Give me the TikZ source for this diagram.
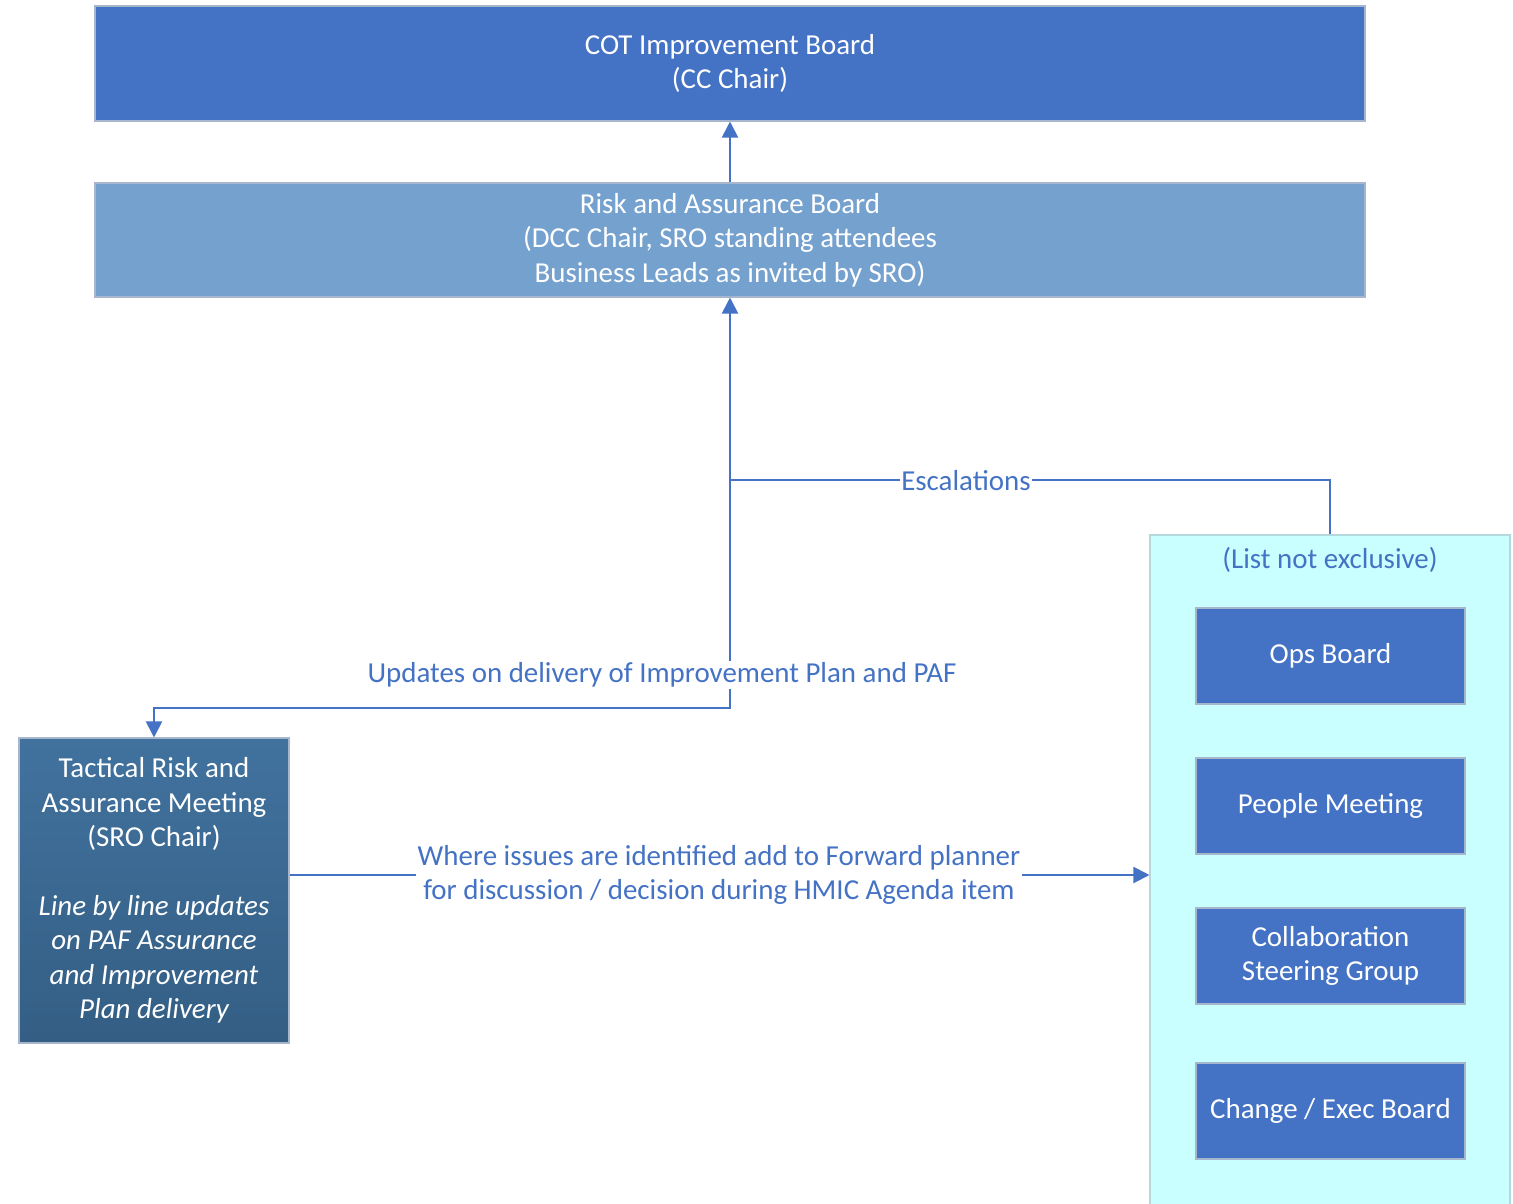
\documentclass[tikz,border=0pt]{standalone}
\usepackage{fontspec}
\setmainfont{Carlito}
\usepackage{tikz}
\usetikzlibrary{positioning,arrows.meta}

\definecolor{boardblue}{HTML}{4472C4}
\definecolor{riskblue}{HTML}{75A1CF}
\definecolor{edgegray}{HTML}{A6B6CC}
\definecolor{paneltint}{HTML}{C9FFFF}
\definecolor{paneledge}{HTML}{B4D8DC}
\definecolor{tacttop}{HTML}{41729E}
\definecolor{tactbot}{HTML}{345E84}

\begin{document}
\begin{tikzpicture}[x=0.75pt,y=-0.75pt,
    every node/.style={font=\fontsize{21.7}{25.8}\selectfont, align=center},
    board/.style={draw=edgegray, line width=0.8pt, fill=boardblue, text=white, minimum width=201.75pt, minimum height=72pt},
    link/.style={draw=boardblue, line width=1.5pt, -{Triangle[length=12pt,width=12pt]}},
    tag/.style={fill=white, text=boardblue, inner sep=1pt}]
    \useasboundingbox (0,0) rectangle (1513,1203);
    % top boards
    \node[board, minimum width=952.5pt, minimum height=86.25pt] (cot) at (730,63.5) {COT Improvement Board\\(CC Chair)};
    \node[board, fill=riskblue, minimum width=952.5pt, minimum height=85.5pt] (rab) at (730,240) {Risk and Assurance Board\\(DCC Chair, SRO standing attendees\\Business Leads as invited by SRO)};
    % tactical meeting
    \node[draw=edgegray, line width=0.8pt, top color=tacttop, bottom color=tactbot, text=white, minimum width=202.5pt, minimum height=228.75pt] (trm) at (154,890.5) {Tactical Risk and\\Assurance Meeting\\(SRO Chair)\\[25.8pt]\itshape Line by line updates\\\itshape on PAF Assurance\\\itshape and Improvement\\\itshape Plan delivery};
    % other boards
    \node[draw=paneledge, line width=0.8pt, fill=paneltint, minimum width=270pt, minimum height=510pt] (panel) at (1330,875) {};
    \node[text=boardblue] (note) at (1330,560) {(List not exclusive)};
    \node[board] (ops) at (1330.5,656) {Ops Board};
    \node[board] (people) at (1330.5,806) {People Meeting};
    \node[board] (collab) at (1330.5,956) {Collaboration\\Steering Group};
    \node[board] (change) at (1330.5,1111) {Change / Exec Board};
    % connectors
    \coordinate (bend) at (730,708);
    \coordinate (esc) at (730,480);
    \draw[link] (rab.north) -- (cot.south);
    \draw[link, {Triangle[length=12pt,width=12pt]}-{Triangle[length=12pt,width=12pt]}] (trm.north) |- (bend) -- (rab.south);
    \draw[draw=boardblue, line width=1.5pt] (panel.north) |- (esc);
    \draw[link] (trm.east |- panel.west) -- (panel.west);
    \node[tag] (upd) at (662,675) {Updates on delivery of Improvement Plan and PAF};
    \node[tag] (escl) at (966,481) {Escalations};
    \node[tag] (fwd) at (719,875) {Where issues are identified add to Forward planner\\for discussion / decision during HMIC Agenda item};
\end{tikzpicture}
\end{document}
